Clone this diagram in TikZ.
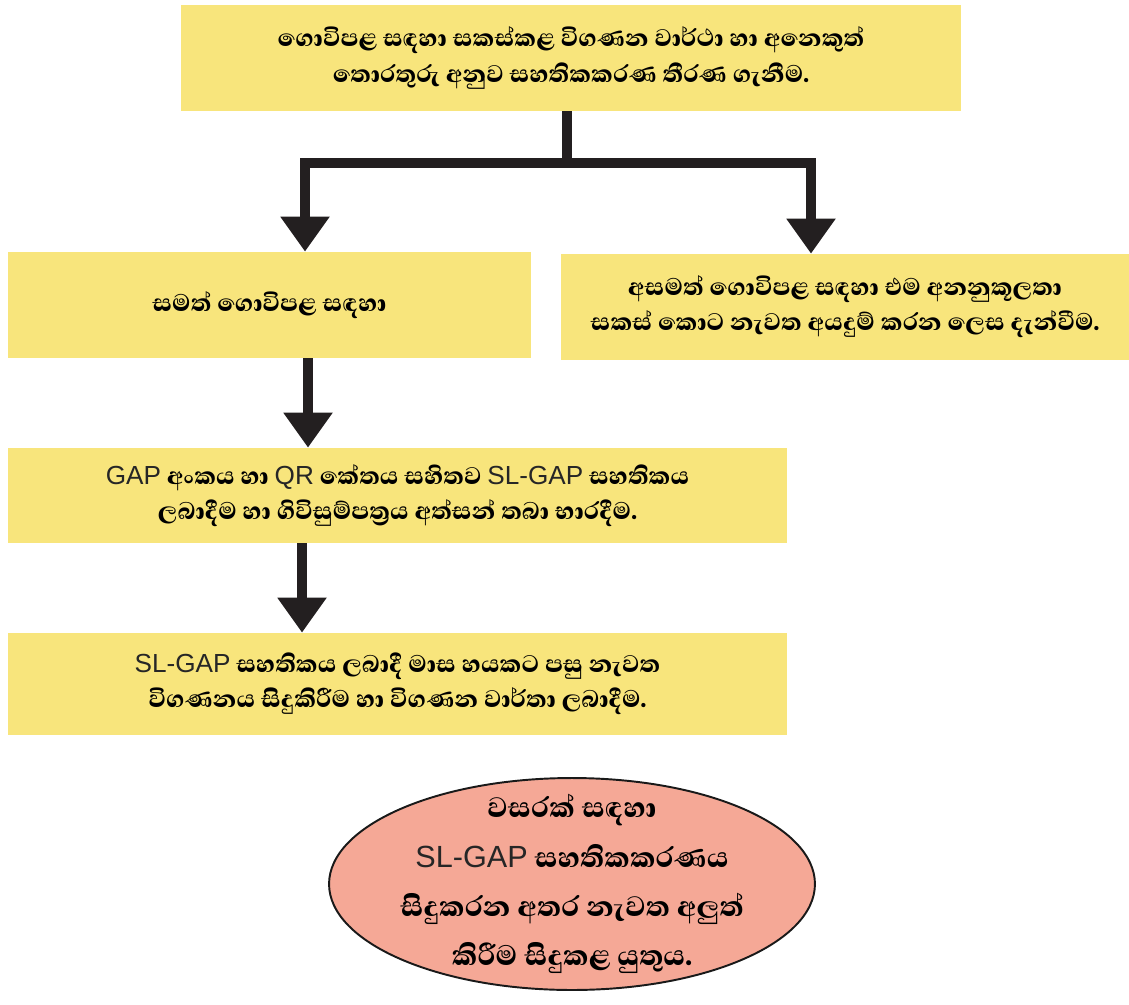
\documentclass[tikz,border=0pt]{standalone}
\usepackage{fontspec}
\newfontfamily\sinfont[Script=Sinhala, BoldFont={Abhaya Libre ExtraBold}]{Abhaya Libre}
\newfontfamily\latfont[Scale=0.85]{Liberation Sans}
\usetikzlibrary{arrows.meta,shapes.geometric,positioning}
\definecolor{boxfill}{RGB}{248,229,124}
\definecolor{ovalfill}{RGB}{245,168,150}
\definecolor{inkline}{RGB}{35,31,32}
% latin words inside the sinhala lines
\newcommand{\lat}[1]{{\latfont\mdseries\color{black!85}#1}}
\tikzset{
  infobox/.style={rectangle, fill=boxfill, inner sep=0pt, align=center,
    font=\sinfont\bfseries\fontsize{17.5}{20}\selectfont},
  flowline/.style={draw=inkline, line width=0.2cm},
  flowarrow/.style={flowline, -{Triangle[length=0.7cm,width=0.94cm]}},
  oval/.style={ellipse, fill=ovalfill, draw=black!90, line width=1.1pt,
    inner sep=0pt, minimum width=9.72cm, minimum height=4.24cm},
  ovaltext/.style={align=center, inner sep=0pt,
    font=\sinfont\bfseries\fontsize{20.5}{28}\selectfont}
}
\begin{document}
\begin{tikzpicture}[x=0.02cm, y=-0.02cm]
  \useasboundingbox (0,0) rectangle (1129,1004);
  % boxes
  \node[infobox, minimum width=15.6cm, minimum height=2.12cm] (decide) at (571,58)
    {ගොවිපළ සඳහා සකස්කළ විගණන වාර්ථා හා අනෙකුත්\\තොරතුරු අනුව සහතිකකරණ තීරණ ගැනීම.};
  \node[infobox, minimum width=10.46cm, minimum height=2.12cm] (pass) at (269.5,305)
    {සමත් ගොවිපළ සඳහා};
  \node[infobox, minimum width=11.36cm, minimum height=2.12cm] (fail) at (845,307)
    {අසමත් ගොවිපළ සඳහා එම අනනුකූලතා\\සකස් කොට නැවත අයදුම් කරන ලෙස දැන්වීම.};
  \node[infobox, minimum width=15.58cm, minimum height=1.9cm] (issue) at (397.5,495.5)
    {\lat{GAP} අංකය හා \lat{QR} කේතය සහිතව \lat{SL-GAP} සහතිකය\\ලබාදීම හා ගිවිසුම්පත්^^^^200dරය අත්සන් තබා භාරදීම.};
  \node[infobox, minimum width=15.58cm, minimum height=2.04cm] (audit) at (397.5,684)
    {\lat{SL-GAP} සහතිකය ලබාදී මාස හයකට පසු නැවත\\විගණනය සිදුකිරීම හා විගණන වාර්තා ලබාදීම.};
  % note
  \node[oval] (renew) at (572,884) {};
  \node[ovaltext] (renewtext) at (renew.center)
    {වසරක් සඳහා\\\lat{SL-GAP} සහතිකකරණය\\සිදුකරන අතර නැවත අලුත්\\කිරීම සිදුකළ යුතුය.};
  % connectors
  \coordinate (fork) at (567,163);
  \coordinate (forkl) at (305,163);
  \coordinate (forkr) at (811,163);
  \coordinate (down1) at (308,0);
  \coordinate (down2) at (302,0);
  \draw[flowline] (fork |- decide.south) -- (fork);
  \draw[flowline, line cap=rect] (forkl) -- (forkr);
  \draw[flowarrow] (forkl) -- (forkl |- pass.north);
  \draw[flowarrow] (forkr) -- (forkr |- fail.north);
  \draw[flowarrow] (pass.south -| down1) -- (issue.north -| down1);
  \draw[flowarrow] (issue.south -| down2) -- (audit.north -| down2);
\end{tikzpicture}
\end{document}
